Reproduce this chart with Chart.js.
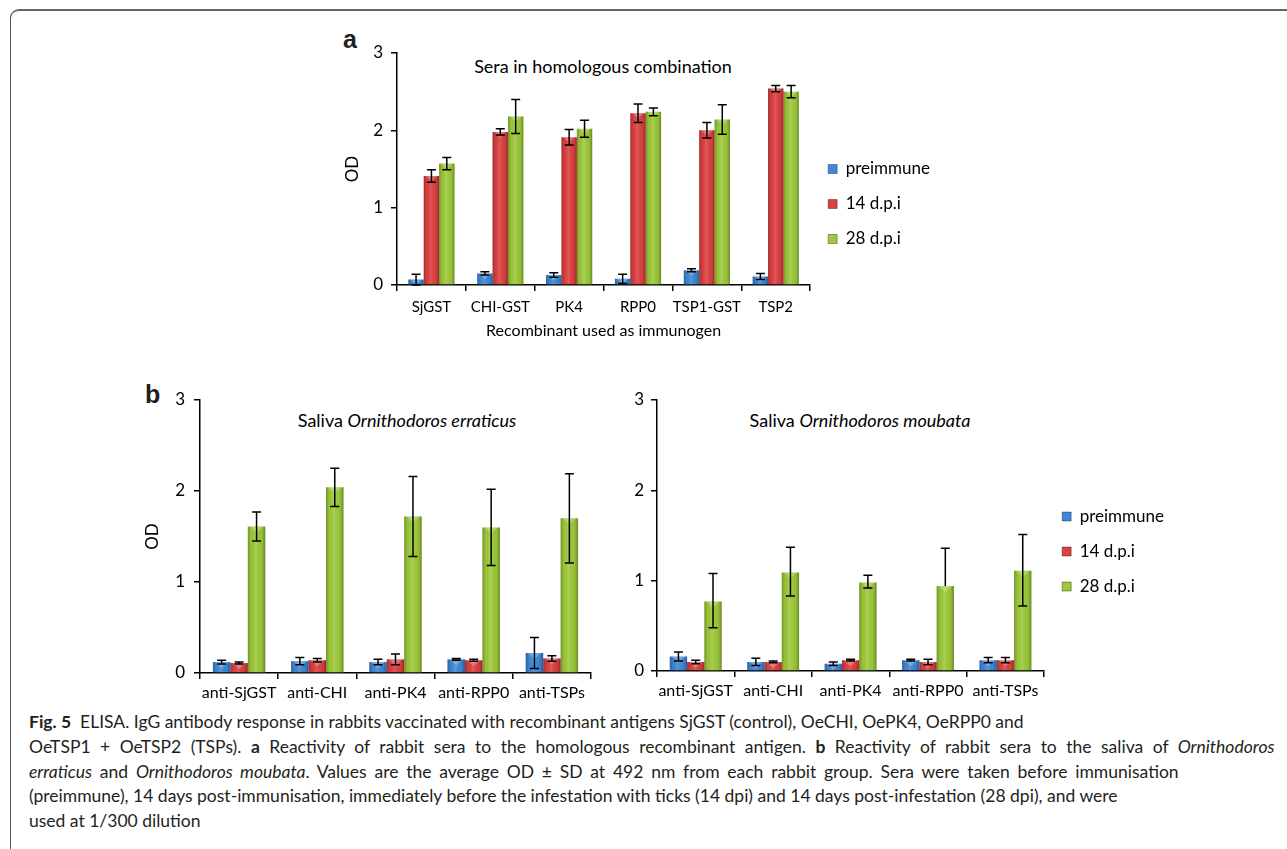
<!DOCTYPE html>
<html>
<head>
<meta charset="utf-8">
<script src="https://cdn.jsdelivr.net/npm/chart.js@4.4.1/dist/chart.umd.min.js"></script>
<style>
  body { margin: 0; background: #fff; width: 1287px; height: 849px; overflow: hidden; position: relative; font-family: Lato, sans-serif; color: #231f20; }
  .frame { position: absolute; left: 10px; top: 9px; width: 1300px; height: 860px; border-top: 2px solid #666; border-left: 1.5px solid #555; border-top-left-radius: 9px; }
  canvas { position: absolute; }
  .lbl { position: absolute; font-family: "Liberation Sans", Arial, sans-serif; font-weight: bold; font-size: 25px; }
  .ptitle { position: absolute; width: 400px; text-align: center; font-size: 18px; line-height: 20px; white-space: nowrap; color: #000; }
  .caption { position: absolute; left: 29px; top: 710px; font-size: 17.5px; line-height: 24.8px; white-space: nowrap; }
  .caption span { display: block; }
</style>
</head>
<body>
<div class="frame"></div>
<div class="lbl" style="left:343px;top:25px;">a</div>
<div class="lbl" style="left:145px;top:380px;">b</div>
<div class="ptitle" style="left:403px;top:56px;">Sera in homologous combination</div>
<div class="ptitle" style="left:207px;top:410px;">Saliva <i>Ornithodoros erraticus</i></div>
<div class="ptitle" style="left:660px;top:410px;">Saliva <i>Ornithodoros moubata</i></div>

<canvas id="chartA" width="610" height="311" style="left:330px;top:30px;"></canvas>
<canvas id="chartB1" width="461" height="325" style="left:140px;top:380px;"></canvas>
<canvas id="chartB2" width="574" height="323" style="left:600px;top:380px;"></canvas>

<div class="caption">
<span><b>Fig. 5</b>&nbsp; ELISA. IgG antibody response in rabbits vaccinated with recombinant antigens SjGST (control), OeCHI, OePK4, OeRPP0 and</span>
<span style="word-spacing:5px;">OeTSP1 + OeTSP2 (TSPs). <b>a</b> Reactivity of rabbit sera to the homologous recombinant antigen. <b>b</b> Reactivity of rabbit sera to the saliva of <i>Ornithodoros</i></span>
<span style="word-spacing:3.3px;"><i>erraticus</i> and <i>Ornithodoros moubata</i>. Values are the average OD ± SD at 492 nm from each rabbit group. Sera were taken before immunisation</span>
<span>(preimmune), 14 days post-immunisation, immediately before the infestation with ticks (14 dpi) and 14 days post-infestation (28 dpi), and were</span>
<span>used at 1/300 dilution</span>
</div>

<script>
// ---- data ----
var seriesNames = ['preimmune', '14 d.p.i', '28 d.p.i'];
var yTicks = [0, 1, 2, 3];

// panel a: sera vs homologous recombinant
var catsA = ['SjGST', 'CHI-GST', 'PK4', 'RPP0', 'TSP1-GST', 'TSP2'];
var preA = [0.07, 0.15, 0.13, 0.08, 0.19, 0.11];
var preA_sd = [0.07, 0.02, 0.03, 0.06, 0.02, 0.04];
var d14A = [1.41, 1.98, 1.91, 2.22, 2.00, 2.54];
var d14A_sd = [0.08, 0.04, 0.10, 0.12, 0.10, 0.04];
var d28A = [1.57, 2.18, 2.02, 2.24, 2.14, 2.50];
var d28A_sd = [0.08, 0.22, 0.11, 0.05, 0.19, 0.08];

// panel b: saliva
var catsB = ['anti-SjGST', 'anti-CHI', 'anti-PK4', 'anti-RPP0', 'anti-TSPs'];
var preE = [0.12, 0.13, 0.12, 0.15, 0.22];
var preE_sd = [0.02, 0.04, 0.03, 0.01, 0.17];
var d14E = [0.11, 0.14, 0.15, 0.14, 0.16];
var d14E_sd = [0.01, 0.02, 0.06, 0.01, 0.03];
var d28E = [1.61, 2.04, 1.72, 1.60, 1.70];
var d28E_sd = [0.16, 0.21, 0.44, 0.42, 0.49];

var preM = [0.16, 0.10, 0.08, 0.12, 0.12];
var preM_sd = [0.05, 0.04, 0.02, 0.01, 0.03];
var d14M = [0.10, 0.10, 0.12, 0.10, 0.12];
var d14M_sd = [0.02, 0.01, 0.01, 0.03, 0.03];
var d28M = [0.77, 1.09, 0.98, 0.94, 1.11];
var d28M_sd = [0.31, 0.28, 0.08, 0.42, 0.40];
var d28M_sdLow = [0.29, 0.26, 0.06, 0, 0.39];

var colors = ['#3f88d8', '#de4040', '#9ecb3a'];

Chart.defaults.font.family = 'Lato, sans-serif';
Chart.defaults.color = '#000';

// excel-like shading on each bar
var barShade = {
  id: 'barShade',
  afterDatasetDraw: function(chart, args) {
    var ctx = chart.ctx;
    args.meta.data.forEach(function(bar) {
      var w = bar.width, l = bar.x - w / 2, r = bar.x + w / 2;
      var top = Math.min(bar.y, bar.base), h = Math.abs(bar.base - bar.y);
      ctx.save();
      var g = ctx.createLinearGradient(l, 0, r, 0);
      g.addColorStop(0, 'rgba(0,0,0,0.28)');
      g.addColorStop(0.18, 'rgba(0,0,0,0.05)');
      g.addColorStop(0.45, 'rgba(255,255,255,0.12)');
      g.addColorStop(0.8, 'rgba(0,0,0,0.05)');
      g.addColorStop(1, 'rgba(0,0,0,0.32)');
      ctx.fillStyle = g;
      ctx.fillRect(l, top, w, h);
      var t = Math.min(w * 0.35, h);
      ctx.beginPath();
      ctx.moveTo(l + 2, top);
      ctx.lineTo(r - 2, top);
      ctx.lineTo(bar.x, top + t);
      ctx.closePath();
      ctx.fillStyle = 'rgba(255,255,255,0.25)';
      ctx.fill();
      ctx.restore();
    });
  }
};

var errorBars = {
  id: 'errorBars',
  afterDatasetsDraw: function(chart) {
    var ctx = chart.ctx, ys = chart.scales.y;
    chart.data.datasets.forEach(function(ds, i) {
      var meta = chart.getDatasetMeta(i);
      meta.data.forEach(function(bar, j) {
        var v = ds.data[j], up = ds.sd[j];
        var dn = ds.sdLow ? ds.sdLow[j] : up;
        var y1 = ys.getPixelForValue(v + up), y2 = ys.getPixelForValue(v - dn);
        var cap = 4.5;
        ctx.save();
        ctx.strokeStyle = '#000';
        ctx.lineWidth = 1.5;
        ctx.beginPath();
        ctx.moveTo(bar.x, y1); ctx.lineTo(bar.x, y2);
        ctx.moveTo(bar.x - cap, y1); ctx.lineTo(bar.x + cap, y1);
        if (dn > 0) { ctx.moveTo(bar.x - cap, y2); ctx.lineTo(bar.x + cap, y2); }
        ctx.stroke();
        ctx.restore();
      });
    });
  }
};

function makeSets(vals, sds, lows) {
  return vals.map(function(v, i) {
    return {
      label: seriesNames[i],
      data: v,
      sd: sds[i],
      sdLow: lows ? lows[i] : null,
      backgroundColor: colors[i],
      borderWidth: 0,
      categoryPercentage: 0.67,
      barPercentage: 1.0
    };
  });
}

function makeOptions(o) {
  return {
    responsive: false,
    animation: false,
    layout: { padding: { top: o.padTop, right: o.padRight || 0 } },
    plugins: {
      tooltip: { enabled: false },
      legend: {
        display: o.legend,
        position: 'right',
        align: 'center',
        title: { display: o.legendShift > 0, text: '', font: { size: 10 }, padding: { top: o.legendShift, bottom: 0 } },
        labels: {
          boxWidth: 9, boxHeight: 9, padding: 18,
          font: { size: 17 }, color: '#000',
          generateLabels: function(chart) {
            return chart.data.datasets.map(function(ds, i) {
              return { text: ds.label, fillStyle: ds.backgroundColor, strokeStyle: 'rgba(0,0,0,0.35)', lineWidth: 1, datasetIndex: i };
            });
          }
        }
      }
    },
    scales: {
      x: {
        afterFit: function(s) { s.height = o.xHeight; },
        border: { display: true, color: '#000', width: 1.5 },
        grid: { drawOnChartArea: false, drawTicks: true, tickLength: 6, color: '#000', lineWidth: 1.5, offset: true },
        ticks: { font: { size: o.xFont }, padding: o.xPad, maxRotation: 0, autoSkip: false },
        title: { display: !!o.xTitle, text: o.xTitle || '', font: { size: 16 }, padding: { top: 0, bottom: 1 } }
      },
      y: {
        min: 0, max: 3,
        afterFit: function(s) { s.width = o.yWidth; },
        afterBuildTicks: function(s) { s.ticks = yTicks.map(function(v) { return { value: v }; }); },
        border: { display: true, color: '#000', width: 1.5 },
        grid: { drawOnChartArea: false, drawTicks: true, tickLength: 6, color: '#000', lineWidth: 1.5 },
        ticks: { font: { size: 17 }, padding: o.yPad },
        title: { display: !!o.yTitle, text: o.yTitle || '', font: { size: 17 }, padding: { top: o.yTitlePad, bottom: 0 } }
      }
    }
  };
}

new Chart(document.getElementById('chartA'), {
  type: 'bar',
  data: { labels: catsA, datasets: makeSets([preA, d14A, d28A], [preA_sd, d14A_sd, d28A_sd]) },
  options: makeOptions({ padTop: 23, legend: true, legendShift: 2, xHeight: 56, xFont: 15, xPad: 7, xTitle: 'Recombinant used as immunogen', yWidth: 67, yPad: 8, yTitle: 'OD', yTitlePad: 12 }),
  plugins: [barShade, errorBars]
});

new Chart(document.getElementById('chartB1'), {
  type: 'bar',
  data: { labels: catsB, datasets: makeSets([preE, d14E, d28E], [preE_sd, d14E_sd, d28E_sd]) },
  options: makeOptions({ padTop: 20, padRight: 10, legend: false, legendShift: 0, xHeight: 32, xFont: 16, xPad: 4, yWidth: 60, yPad: 9, yTitle: 'OD', yTitlePad: 2 }),
  plugins: [barShade, errorBars]
});

new Chart(document.getElementById('chartB2'), {
  type: 'bar',
  data: { labels: catsB, datasets: makeSets([preM, d14M, d28M], [preM_sd, d14M_sd, d28M_sd], [null, null, d28M_sdLow]) },
  options: makeOptions({ padTop: 20, legend: true, legendShift: 0, xHeight: 32, xFont: 16, xPad: 4, yWidth: 57, yPad: 7 }),
  plugins: [barShade, errorBars]
});
</script>
</body>
</html>
